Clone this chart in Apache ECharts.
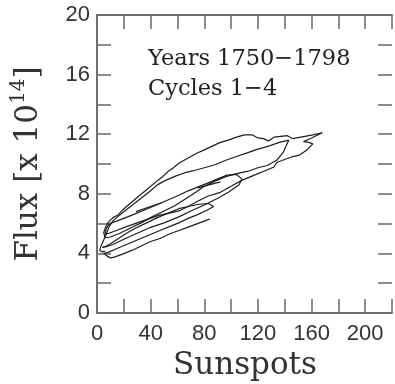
<!DOCTYPE html>
<html><head><meta charset="utf-8">
<script src="https://cdn.jsdelivr.net/npm/echarts@6/dist/echarts.min.js"></script>
<style>html,body{margin:0;padding:0;background:#fff}#c{width:395px;height:384px}</style>
</head><body><div id="c"></div>
<script>
// Tick labels
const xTickLabels = [0, 40, 80, 120, 160, 200];
const yTickLabels = [0, 4, 8, 12, 16, 20];
// Trajectory [sunspots, flux x1e14], in time order
const tail1750 = [[84,6.3],[78,6.1],[72,5.9],[66,5.7],[60,5.5],[54,5.3],[47,5.0],[40,4.8],[33,4.5],[26,4.2],[19,3.95],[13,3.75],[10,3.7],[7,3.85],[5,4.0]];
const cycle1 = [[5,4.0],[8,4.05],[14,4.3],[22,4.6],[30,4.9],[38,5.2],[46,5.5],[54,5.8],[61,6.05],[68,6.35],[75,6.6],[82,6.9],[87,7.15],
  [83,7.35],[76,7.3],[68,7.15],[61,7.0],[53,6.7],[45,6.4],[37,6.05],[29,5.7],[22,5.35],[16,5.0],[11,4.7],[7,4.5],[4,4.4]];
const cycle2 = [[4,4.4],[7,4.45],[12,4.6],[20,4.95],[30,5.35],[40,5.75],[50,6.05],[61,6.45],[70,6.85],[80,7.25],[90,7.7],[98,8.1],[106,8.6],[108,9.0],[104,9.3],
  [97,9.25],[90,9.0],[82,8.7],[75,8.45],[68,8.2],[61,7.9],[52,7.55],[43,7.2],[35,6.9],[27,6.6],[20,6.35],[14,6.15],[9.5,6.0]];
const cycle3 = [[9.5,6.0],[7,5.7],[6,5.3],[9,5.35],[15,5.55],[22,5.8],[30,6.05],[38,6.3],[46,6.55],[54,6.7],[61,6.85],[68,7.15],[75,7.5],[83,7.85],[92,8.1],[100,8.5],[108,8.9],[116,9.2],[124,9.5],[132,9.8],[134,10.1],[140,10.3],[146,10.5],[151,10.6],[156,10.9],[161,11.35],[158,11.45],[154,11.5],[160,11.75],[168,12.1],
  [161,11.95],[155,11.85],[149,11.75],[146,11.7],[142,11.9],[137,11.85],[132,11.8],[128,11.55],[124,11.7],[120,11.75],[116,11.95],[110,11.95],[104,11.8],[98,11.6],[92,11.45],[86,11.2],[80,10.95],[74,10.7],[68,10.4],[61,10.05],[57,9.75],[53,9.5],[49,9.15],[46,8.95],[42,8.65],[38,8.35],[34,8.05],[30,7.75],[26,7.45],[22,7.15],[19,6.9],[16,6.6],[12,6.4],[9,6.15],[7,5.9]];
const cycle4 = [[7,5.9],[5,5.4],[6,5.05],[10,5.1],[17,5.35],[25,5.7],[33,6.05],[41,6.45],[50,6.85],[58,7.2],[65,7.6],[72,8.0],[80,8.5],[88,8.85],[96,9.15],[104,9.35],[112,9.5],[120,9.75],[127,9.9],[134,10.25],[139,10.8],[141,11.2],[143,11.6],
  [136,11.45],[128,11.2],[120,11.0],[112,10.75],[104,10.5],[96,10.25],[88,9.95],[80,9.75],[72,9.55],[65,9.4],[59,9.2],[55,9.05],[50,8.85],[45,8.6],[40,8.2],[35,7.85],[30,7.5],[25,7.15],[20,6.8],[16,6.5],[12,6.2],[9,5.8],[7,5.3],[5,4.9],[3,4.5],[2,4.2],[4,4.1],[6,4.15]];
// short direction marks
const markA = [[29,6.8],[48,7.4]];
const markB = [[75,8.4],[92,8.8]];

const chart = echarts.init(document.getElementById('c'), null, {renderer:'canvas'});
const axisCol = '#707070';
const lblFont = {fontFamily:'Liberation Sans', fontSize:22, color:'#333'};
function xAx(pos, labels){
  return {type:'value', min:0, max:220, interval:20, position:pos,
    axisLine:{show:true, onZero:false, lineStyle:{color:axisCol, width:2}},
    axisTick:{show:true, inside:true, length:14, lineStyle:{color:axisCol, width:1.6}},
    axisLabel:Object.assign({show:labels, margin:10, formatter:v=>xTickLabels.includes(v)?String(v):''}, lblFont),
    splitLine:{show:false}};
}
function yAx(pos, labels){
  return {type:'value', min:0, max:20, interval:2, position:pos,
    axisLine:{show:labels, onZero:false, lineStyle:{color:axisCol, width:2}},
    axisTick:{show:true, inside:true, length:14, lineStyle:{color:axisCol, width:1.6}},
    axisLabel:Object.assign({show:labels, margin:7, formatter:v=>yTickLabels.includes(v)?String(v):''}, lblFont),
    splitLine:{show:false}};
}
const lineStyle = {color:'#1e1e1e', width:1.2};
const mk = (d)=>({type:'line', data:d, showSymbol:false, symbol:'none', lineStyle:lineStyle, animation:false, xAxisIndex:0, yAxisIndex:0});
chart.setOption({
  animation:false,
  grid:{left:97, top:15, width:299, height:298, containLabel:false},
  xAxis:[xAx('bottom', true), xAx('top', false)],
  yAxis:[yAx('left', true), yAx('right', false)],
  series:[mk(tail1750), mk(cycle1), mk(cycle2), mk(cycle3), mk(cycle4), mk(markA), mk(markB)],
  graphic:[
    {type:'text', left:148, top:48, style:{text:'Years 1750\u22121798', font:'22.5px "DejaVu Serif"', fill:'#222'}},
    {type:'text', left:148, top:78, style:{text:'Cycles 1\u22124', font:'22.5px "DejaVu Serif"', fill:'#222'}},
    {type:'text', x:245, y:366, style:{text:'Sunspots', font:'31px "DejaVu Serif"', fill:'#333', align:'center', verticalAlign:'middle'}},
    {type:'text', x:29, y:164, rotation:Math.PI/2, style:{text:'{a|Flux [x 10}{s|14}{a|]}', align:'center', verticalAlign:'middle', fill:'#333',
      rich:{a:{fontFamily:'DejaVu Serif', fontSize:31, fill:'#333', lineHeight:40}, s:{fontFamily:'DejaVu Serif', fontSize:20, fill:'#333', verticalAlign:'top', lineHeight:40}}}}
  ]
});
</script></body></html>
